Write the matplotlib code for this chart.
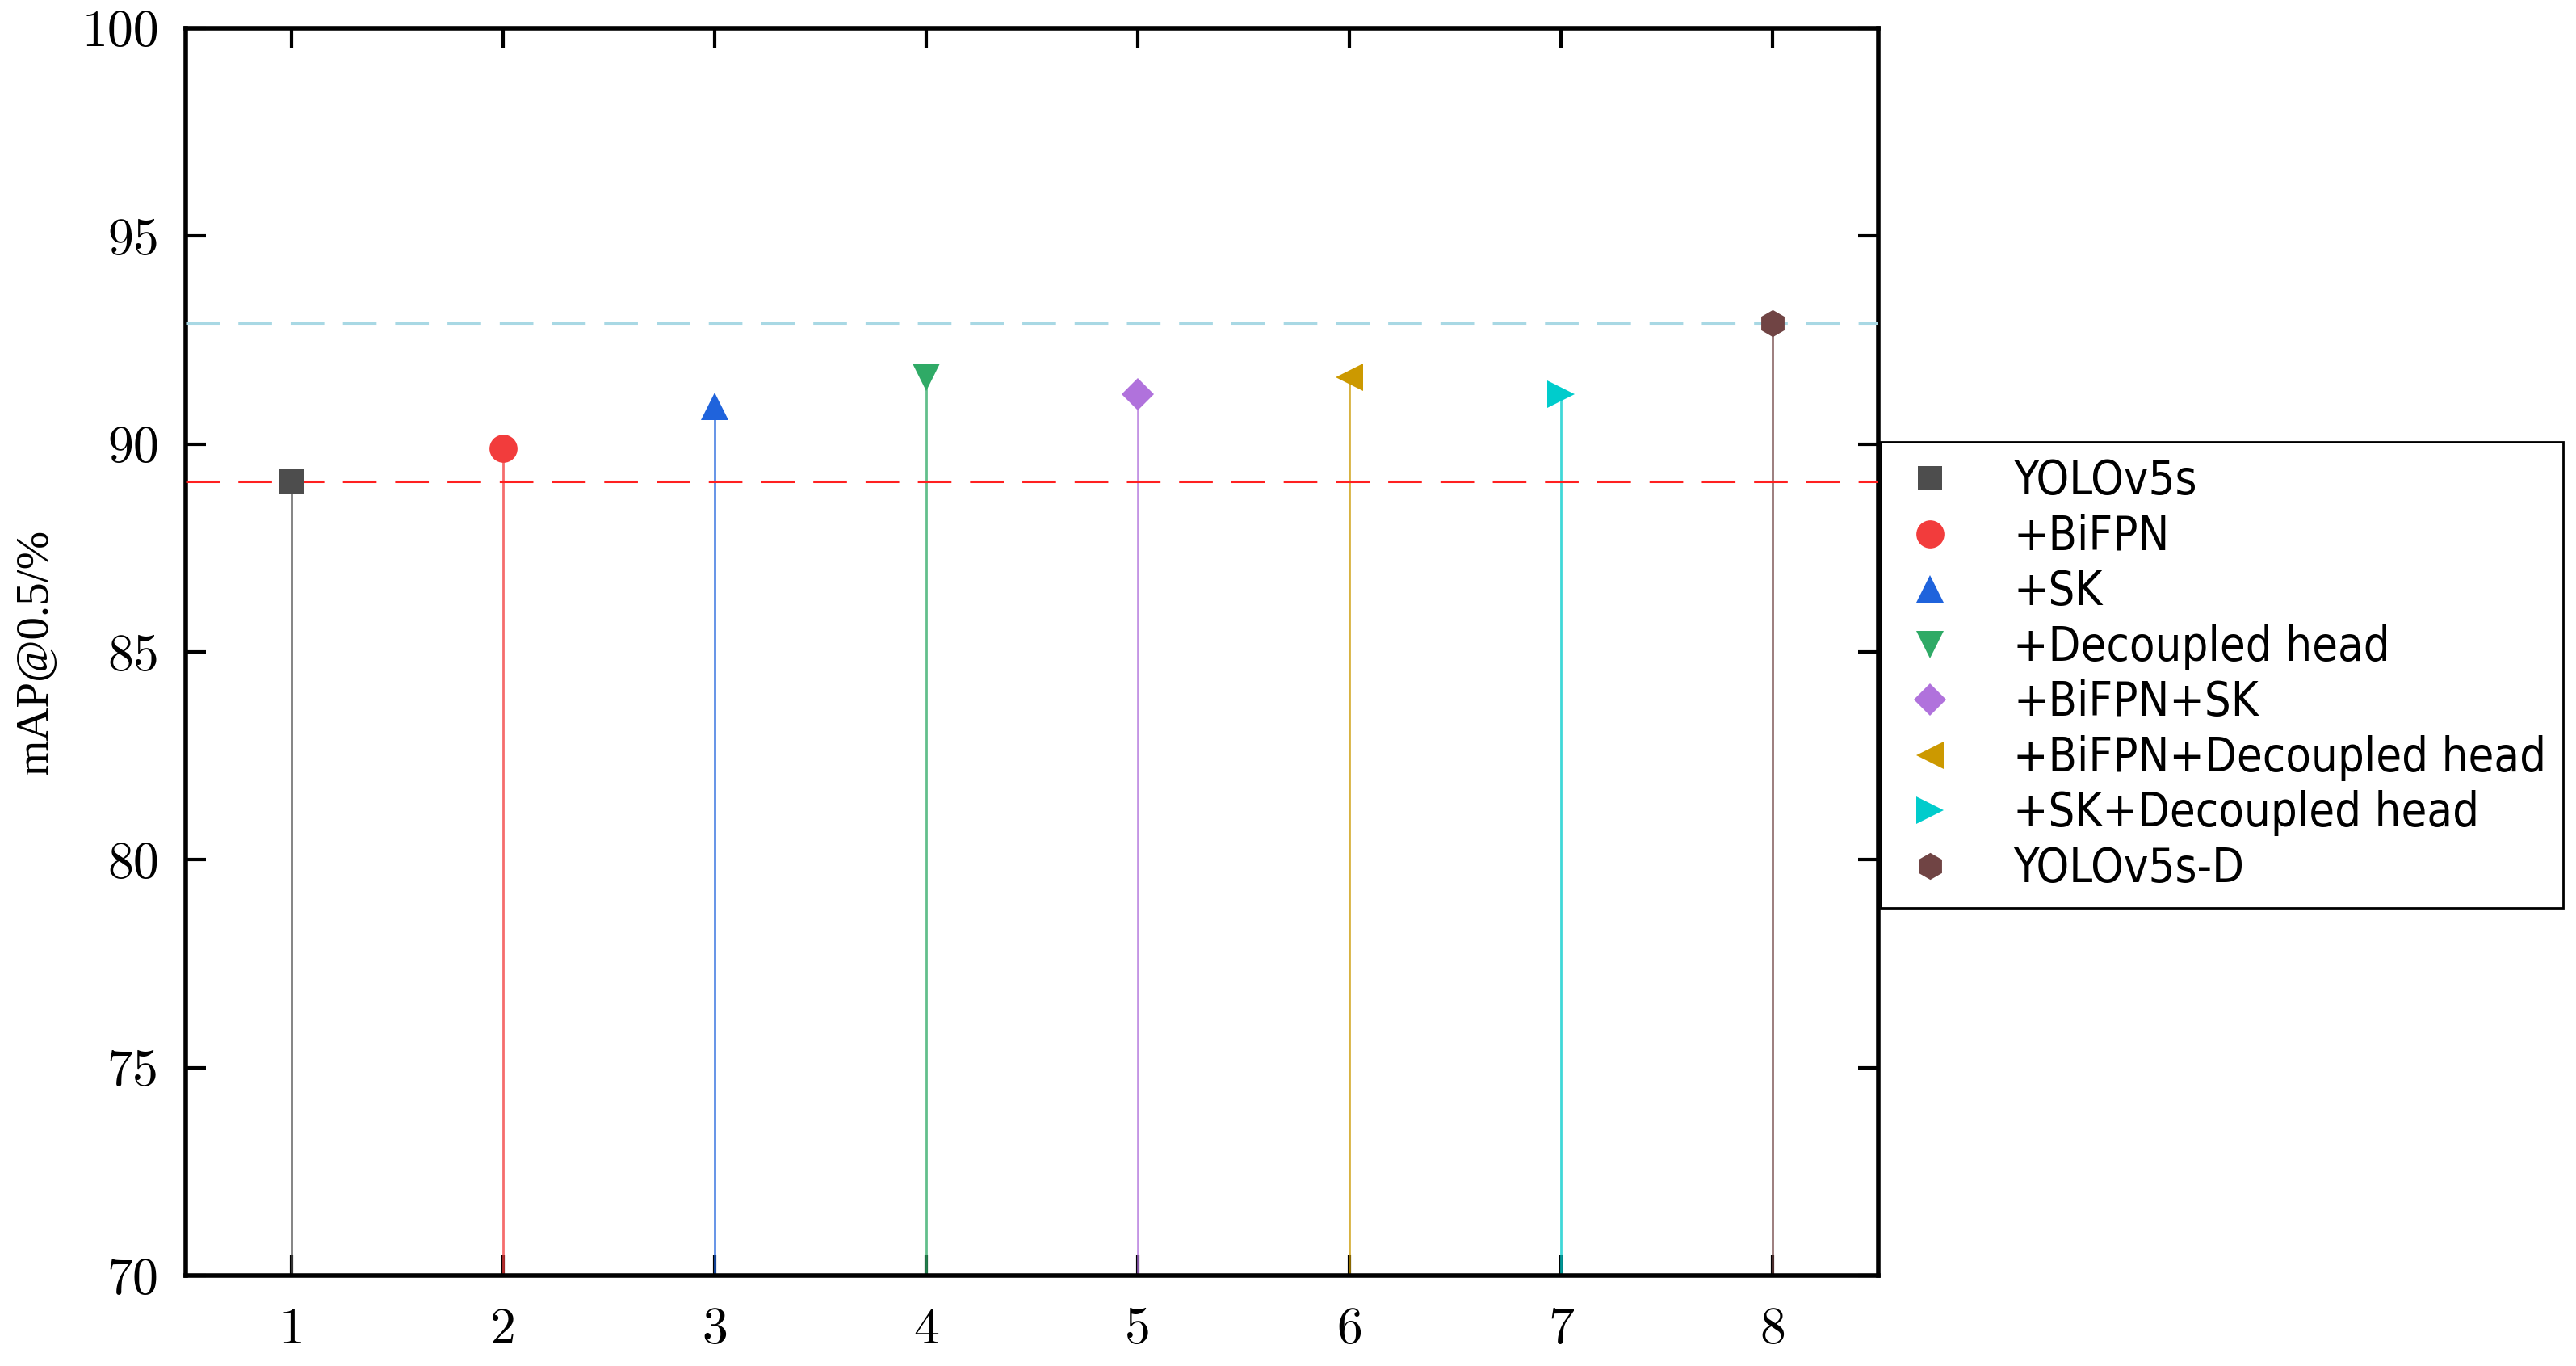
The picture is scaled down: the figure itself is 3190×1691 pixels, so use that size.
import matplotlib
matplotlib.use("Agg")
import matplotlib.pyplot as plt
from matplotlib import font_manager as fm
from matplotlib.textpath import TextPath

# data
models = ["YOLOv5s", "+BiFPN", "+SK", "+Decoupled head", "+BiFPN+SK",
          "+BiFPN+Decoupled head", "+SK+Decoupled head", "YOLOv5s-D"]
x_pos = [1, 2, 3, 4, 5, 6, 7, 8]
map50 = [89.1, 89.9, 90.9, 91.6, 91.2, 91.6, 91.2, 92.9]
baseline_val = 89.1
best_val = 92.9

markers = ["s", "o", "^", "v", "D", "<", ">", "h"]
marker_sizes = [11, 12.5, 12.5, 12.5, 10, 12.5, 12.5, 12]
colors = ["#4d4d4d", "#f23c3c", "#1f63dc", "#2faa66", "#b072dc",
          "#cc9900", "#00cccc", "#704444"]
y_ticks = [70, 75, 80, 85, 90, 95, 100]

plt.rcParams["lines.scale_dashes"] = False

# the legend in the original uses a narrow font, look for one
narrow = [f for f in fm.fontManager.ttflist
          if (f.stretch in ("condensed", "semi-condensed", "extra-condensed")
              or "Narrow" in f.name or "Condensed" in f.name)
          and f.style == "normal" and f.weight in (400, "normal", "regular")]
if narrow:
    leg_fp = fm.FontProperties(fname=narrow[0].fname)
else:
    leg_fp = fm.FontProperties(family="DejaVu Sans")
# fit the longest label to ~650 px wide (at 200 dpi)
w = TextPath((0, 0), max(models, key=len), size=10, prop=leg_fp).get_extents().width
leg_fp.set_size(min(25, 10 * (650 * 72 / 200) / w))

fig = plt.figure(figsize=(15.95, 8.455), dpi=200)
ax = fig.add_axes([0.0721, 0.0662, 0.6571, 0.9131])

for xi, yi, m, ms, c, lab in zip(x_pos, map50, markers, marker_sizes, colors, models):
    ax.vlines(xi, 70, yi, color=c, lw=1.0, alpha=0.75, zorder=2)
    ax.plot(xi, yi, linestyle="none", marker=m, ms=ms, color=c,
            markeredgewidth=0, label=lab, zorder=4)

ax.axhline(baseline_val, color="#ff2020", lw=1.1, linestyle=(0, (15, 8.3)), zorder=3)
ax.axhline(best_val, color="#a8d8e4", lw=1.1, linestyle=(0, (15, 8.3)), zorder=3)

ax.set_xlim(0.5, 8.5)
ax.set_ylim(70, 100)
ax.set_xticks(x_pos)
ax.set_yticks(y_ticks)

for s in ax.spines.values():
    s.set_linewidth(2.0)
ax.tick_params(axis="both", which="major", direction="in", length=9, width=1.5,
               top=True, right=True, labelsize=23)
ax.tick_params(axis="y", pad=12)
ax.tick_params(axis="x", pad=14)
for t in ax.get_xticklabels() + ax.get_yticklabels():
    t.set_fontfamily("cmr10")

ax.set_ylabel("mAP@0.5/%", family="Liberation Serif", fontsize=20.5, labelpad=11)

leg = fig.legend(loc="upper left", bbox_to_anchor=(0.7301, 0.6765), prop=leg_fp,
                 frameon=True, fancybox=False, edgecolor="black", framealpha=1,
                 handlelength=1.4, handletextpad=1.1, labelspacing=0.2,
                 borderpad=0.35, borderaxespad=0, numpoints=1)
leg.get_frame().set_linewidth(1.0)

fig.savefig("out.png", dpi=200)
